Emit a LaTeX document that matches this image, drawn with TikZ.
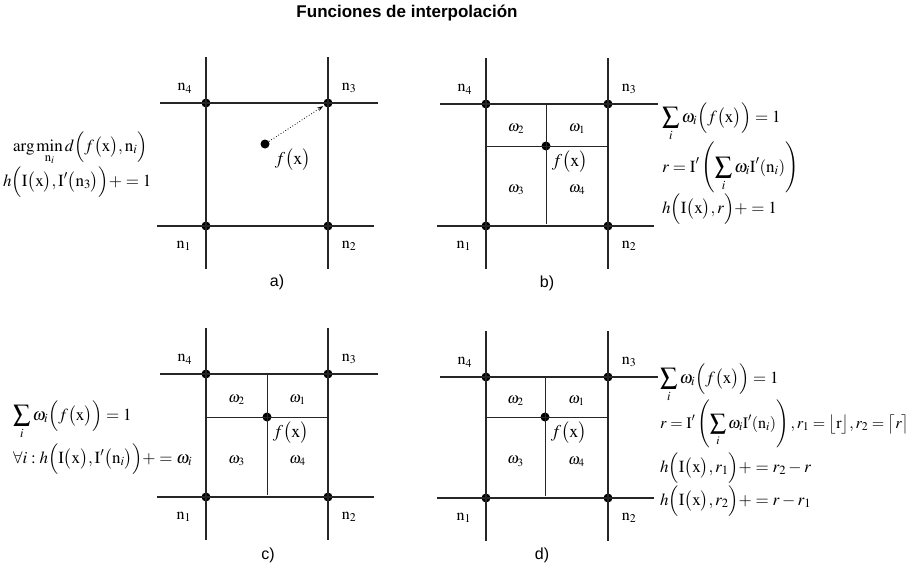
\documentclass[tikz,border=0pt]{standalone}
\usepackage{mathptmx}
\usepackage{fontspec}
\setmainfont{Liberation Serif}
\setsansfont{Liberation Sans}
\usepackage{tikz}
\usetikzlibrary{arrows.meta, positioning, calc}
\tikzstyle{nodo} = [circle, fill=black, inner sep=0pt, minimum size=9pt]
\tikzstyle{rejilla} = [line width=1.2pt, black!85]
\tikzstyle{division} = [line width=1pt, black!85]
\tikzstyle{etiqueta} = [font=\fontsize{16}{19}\selectfont]
\tikzstyle{funcion} = [font=\fontsize{18}{21}\selectfont]
\tikzstyle{peso} = [font=\fontsize{15}{18}\selectfont]
\tikzstyle{ecuacion} = [font=\fontsize{17}{20}\selectfont, anchor=base west, inner sep=0pt]
\tikzstyle{titulo} = [font=\sffamily\bfseries\fontsize{17}{20}\selectfont]
\tikzstyle{inciso} = [font=\sffamily\fontsize{16}{19}\selectfont]
\tikzstyle{flecha} = [dotted, thick, -{Stealth[length=6pt, width=4pt]}, shorten >=1pt]

\begin{document}
\begin{tikzpicture}[x=1pt, y=-1pt]
        \useasboundingbox (0,0) rectangle (916,570);

        \node (titulo) [titulo] at (407,13) {Funciones de interpolación};

        % --- Caso a) ---
        \node (a1) [nodo] at (206,226) {};
        \node (a2) [nodo] at (328,226) {};
        \node (a3) [nodo] at (328,103) {};
        \node (a4) [nodo] at (206,103) {};
        \node (afx) [nodo] at (265,144) {};

        \draw [rejilla] ([yshift=46pt]a4.center) -- ([yshift=-43pt]a1.center);
        \draw [rejilla] ([yshift=46pt]a3.center) -- ([yshift=-43pt]a2.center);
        \draw [rejilla] ([xshift=-46pt]a4.center) -- ([xshift=50pt]a3.center);
        \draw [rejilla] ([xshift=-49pt]a1.center) -- ([xshift=46pt]a2.center);
        \draw [flecha] (afx) -- (a3);

        \node (a4t) [etiqueta, above left=3pt and 7pt of a4] {$\mathrm{n}_4$};
        \node (a3t) [etiqueta, above right=3pt and 7pt of a3] {$\mathrm{n}_3$};
        \node (a1t) [etiqueta, below left=8pt and 8pt of a1] {$\mathrm{n}_1$};
        \node (a2t) [etiqueta, below right=8pt and 7pt of a2] {$\mathrm{n}_2$};
        \node (afxt) [funcion, below right=-2pt and 3pt of afx] {$f\bigl(\mathrm{x}\bigr)$};

        \node (aeq1) [ecuacion] at (13,151) {$\arg\min\limits_{\mathrm{n}_i} d\Bigl(f\bigl(\mathrm{x}\bigr),\mathrm{n}_i\Bigr)$};
        \node (aeq2) [ecuacion] at (3,186) {$h\Bigl(\mathrm{I}\bigl(\mathrm{x}\bigr),\mathrm{I}'\bigl(\mathrm{n}_3\bigr)\Bigr)+=1$};
        \node (ainc) [inciso] at (277,282) {a)};

        % --- Caso b) ---
        \node (b1) [nodo] at (486,226) {};
        \node (b2) [nodo] at (608,226) {};
        \node (b3) [nodo] at (608,104) {};
        \node (b4) [nodo] at (486,104) {};
        \node (bfx) [nodo] at (546,146) {};

        \draw [rejilla] ([yshift=46pt]b4.center) -- ([yshift=-43pt]b1.center);
        \draw [rejilla] ([yshift=46pt]b3.center) -- ([yshift=-43pt]b2.center);
        \draw [rejilla] ([xshift=-46pt]b4.center) -- ([xshift=50pt]b3.center);
        \draw [rejilla] ([xshift=-49pt]b1.center) -- ([xshift=46pt]b2.center);
        \draw [division] (bfx.center -| b4) -- (bfx.center -| b3);
        \draw [division] (bfx.center |- b4) -- ([yshift=2pt]bfx.center |- b1);

        \node (b4t) [etiqueta, above left=3pt and 7pt of b4] {$\mathrm{n}_4$};
        \node (b3t) [etiqueta, above right=3pt and 7pt of b3] {$\mathrm{n}_3$};
        \node (b1t) [etiqueta, below left=8pt and 8pt of b1] {$\mathrm{n}_1$};
        \node (b2t) [etiqueta, below right=8pt and 7pt of b2] {$\mathrm{n}_2$};
        \node (bfxt) [funcion, below right=-2pt and -1pt of bfx] {$f\bigl(\mathrm{x}\bigr)$};
        \node (bw1) [peso, yshift=-4pt] at ($(b3)!0.5!(bfx)$) {$\omega_1$};
        \node (bw2) [peso, yshift=-4pt] at ($(b4)!0.5!(bfx)$) {$\omega_2$};
        \node (bw3) [peso, yshift=-4pt] at ($(b1)!0.5!(bfx)$) {$\omega_3$};
        \node (bw4) [peso, yshift=-4pt] at ($(b2)!0.5!(bfx)$) {$\omega_4$};

        \node (beq1) [ecuacion] at (662,122) {$\displaystyle\sum_i \omega_i\Bigl(f\bigl(\mathrm{x}\bigr)\Bigr)=1$};
        \node (beq2) [ecuacion] at (662,172) {$\displaystyle r=\mathrm{I}'\left(\sum_i \omega_i\mathrm{I}'(\mathrm{n}_i)\right)$};
        \node (beq3) [ecuacion] at (662,213) {$h\Bigl(\mathrm{I}\bigl(\mathrm{x}\bigr),r\Bigr)+=1$};
        \node (binc) [inciso] at (547,283) {b)};

        % --- Caso c) ---
        \node (c1) [nodo] at (206,497) {};
        \node (c2) [nodo] at (328,497) {};
        \node (c3) [nodo] at (328,374) {};
        \node (c4) [nodo] at (206,374) {};
        \node (cfx) [nodo] at (267,417) {};

        \draw [rejilla] ([yshift=46pt]c4.center) -- ([yshift=-43pt]c1.center);
        \draw [rejilla] ([yshift=46pt]c3.center) -- ([yshift=-43pt]c2.center);
        \draw [rejilla] ([xshift=-46pt]c4.center) -- ([xshift=50pt]c3.center);
        \draw [rejilla] ([xshift=-49pt]c1.center) -- ([xshift=46pt]c2.center);
        \draw [division] (cfx.center -| c4) -- (cfx.center -| c3);
        \draw [division] (cfx.center |- c4) -- ([yshift=2pt]cfx.center |- c1);

        \node (c4t) [etiqueta, above left=3pt and 7pt of c4] {$\mathrm{n}_4$};
        \node (c3t) [etiqueta, above right=3pt and 7pt of c3] {$\mathrm{n}_3$};
        \node (c1t) [etiqueta, below left=8pt and 8pt of c1] {$\mathrm{n}_1$};
        \node (c2t) [etiqueta, below right=8pt and 7pt of c2] {$\mathrm{n}_2$};
        \node (cfxt) [funcion, below right=-2pt and -1pt of cfx] {$f\bigl(\mathrm{x}\bigr)$};
        \node (cw1) [peso, yshift=-4pt] at ($(c3)!0.5!(cfx)$) {$\omega_1$};
        \node (cw2) [peso, yshift=-4pt] at ($(c4)!0.5!(cfx)$) {$\omega_2$};
        \node (cw3) [peso, yshift=-4pt] at ($(c1)!0.5!(cfx)$) {$\omega_3$};
        \node (cw4) [peso, yshift=-4pt] at ($(c2)!0.5!(cfx)$) {$\omega_4$};

        \node (ceq1) [ecuacion] at (13,420) {$\displaystyle\sum_i \omega_i\Bigl(f\bigl(\mathrm{x}\bigr)\Bigr)=1$};
        \node (ceq2) [ecuacion] at (13,463) {$\forall i:h\Bigl(\mathrm{I}\bigl(\mathrm{x}\bigr),\mathrm{I}'\bigl(\mathrm{n}_i\bigr)\Bigr)+=\omega_i$};
        \node (cinc) [inciso] at (268,555) {c)};

        % --- Caso d) ---
        \node (d1) [nodo] at (486,498) {};
        \node (d2) [nodo] at (608,498) {};
        \node (d3) [nodo] at (608,377) {};
        \node (d4) [nodo] at (486,377) {};
        \node (dfx) [nodo] at (545,417) {};

        \draw [rejilla] ([yshift=46pt]d4.center) -- ([yshift=-43pt]d1.center);
        \draw [rejilla] ([yshift=46pt]d3.center) -- ([yshift=-43pt]d2.center);
        \draw [rejilla] ([xshift=-46pt]d4.center) -- ([xshift=50pt]d3.center);
        \draw [rejilla] ([xshift=-49pt]d1.center) -- ([xshift=46pt]d2.center);
        \draw [division] (dfx.center -| d4) -- (dfx.center -| d3);
        \draw [division] (dfx.center |- d4) -- ([yshift=2pt]dfx.center |- d1);

        \node (d4t) [etiqueta, above left=3pt and 7pt of d4] {$\mathrm{n}_4$};
        \node (d3t) [etiqueta, above right=3pt and 7pt of d3] {$\mathrm{n}_3$};
        \node (d1t) [etiqueta, below left=8pt and 8pt of d1] {$\mathrm{n}_1$};
        \node (d2t) [etiqueta, below right=8pt and 7pt of d2] {$\mathrm{n}_2$};
        \node (dfxt) [funcion, below right=-2pt and -1pt of dfx] {$f\bigl(\mathrm{x}\bigr)$};
        \node (dw1) [peso, yshift=-4pt] at ($(d3)!0.5!(dfx)$) {$\omega_1$};
        \node (dw2) [peso, yshift=-4pt] at ($(d4)!0.5!(dfx)$) {$\omega_2$};
        \node (dw3) [peso, yshift=-4pt] at ($(d1)!0.5!(dfx)$) {$\omega_3$};
        \node (dw4) [peso, yshift=-4pt] at ($(d2)!0.5!(dfx)$) {$\omega_4$};

        \node (deq1) [ecuacion] at (660,383) {$\displaystyle\sum_i \omega_i\Bigl(f\bigl(\mathrm{x}\bigr)\Bigr)=1$};
        \node (deq2) [ecuacion, font=\fontsize{16}{19}\selectfont] at (660,428) {$\displaystyle r=\mathrm{I}'\left(\sum_i \omega_i\mathrm{I}'(\mathrm{n}_i)\right),r_1=\bigl\lfloor\mathrm{r}\bigr\rfloor,r_2=\bigl\lceil r\bigr\rceil$};
        \node (deq3) [ecuacion] at (660,472) {$h\Bigl(\mathrm{I}\bigl(\mathrm{x}\bigr),r_1\Bigr)+=r_2-r$};
        \node (deq4) [ecuacion] at (660,505) {$h\Bigl(\mathrm{I}\bigl(\mathrm{x}\bigr),r_2\Bigr)+=r-r_1$};
        \node (dinc) [inciso] at (542,555) {d)};

    \end{tikzpicture}
\end{document}
